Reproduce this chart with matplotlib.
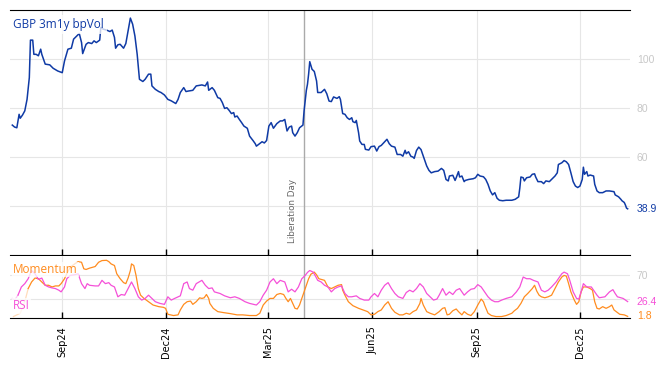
import matplotlib
matplotlib.use('Agg')
import matplotlib.pyplot as plt
import matplotlib.dates as mdates
import pandas as pd

start = pd.Timestamp('2024-07-19')

# GBP 3m1y bp vol, days after start
vol_days = [0, 2, 4, 6, 7, 9, 11, 13, 15, 16, 18, 19, 21, 23, 25, 26, 29, 33, 36, 40,
            44, 46, 49, 52, 54, 56, 59, 61, 62, 65, 67, 70, 72, 74, 77, 78, 80, 83, 86, 88,
            90, 91, 93, 95, 98, 100, 102, 104, 106, 108, 110, 112, 115, 117, 120, 122, 123, 126, 129, 131,
            134, 137, 140, 144, 146, 148, 151, 153, 155, 159, 162, 167, 170, 172, 173, 176, 178, 181, 183, 185,
            187, 189, 191, 193, 195, 196, 198, 200, 202, 204, 207, 209, 212, 214, 215, 217, 220, 222, 224, 226,
            228, 230, 233, 236, 238, 240, 242, 244, 246, 247, 249, 251, 253, 256, 257, 259, 260, 261, 262, 264,
            266, 268, 269, 272, 275, 277, 279, 281, 283, 286, 288, 289, 291, 293, 295, 297, 299, 300, 302, 303,
            305, 306, 308, 310, 311, 314, 316, 319, 321, 323, 325, 328, 330, 332, 334, 337, 339, 342, 344, 346,
            347, 349, 351, 353, 354, 356, 358, 360, 362, 365, 367, 369, 372, 375, 378, 380, 382, 384, 385, 388,
            390, 391, 393, 394, 396, 398, 399, 402, 406, 408, 410, 412, 415, 417, 419, 421, 423, 425, 427, 429,
            432, 435, 440, 443, 446, 447, 448, 450, 451, 453, 456, 458, 460, 461, 463, 466, 468, 470, 473, 475,
            478, 480, 481, 484, 486, 488, 490, 492, 494, 496, 498, 500, 502, 503, 504, 506, 507, 509, 512, 513,
            515, 517, 520, 523, 526, 530, 531, 534, 536, 537, 539, 540, 541, 542]
vol = [73.1, 72.3, 72.0, 77.5, 75.9, 77.2, 78.9, 83.6, 92.5, 107.8, 107.8, 102.0, 102.0, 101.4, 104.1, 102.0, 98.0, 97.7, 96.3, 95.2,
       94.5, 99.3, 104.1, 104.5, 108.2, 109.1, 110.5, 106.8, 102.3, 106.1, 106.8, 106.4, 107.5, 106.8, 107.8, 113.0, 112.3, 111.9, 111.3, 111.9,
       108.9, 104.5, 105.9, 106.1, 104.5, 106.4, 111.6, 116.8, 114.3, 109.5, 102.0, 91.8, 90.9, 91.8, 93.9, 93.9, 89.1, 87.7, 86.8, 86.4,
       85.4, 83.6, 83.0, 81.9, 83.6, 86.4, 88.4, 86.8, 87.0, 87.3, 89.1, 89.5, 89.1, 90.7, 87.3, 88.4, 87.3, 84.3, 84.0, 82.3,
       79.9, 80.2, 79.1, 77.8, 78.2, 76.4, 76.8, 75.4, 74.1, 72.7, 71.8, 68.6, 66.8, 65.5, 64.5, 65.2, 66.3, 65.8, 66.8, 72.7,
       74.1, 71.8, 73.7, 74.8, 74.8, 75.4, 70.7, 72.3, 72.7, 70.0, 68.6, 70.0, 72.0, 73.1, 78.9, 87.3, 89.8, 93.9, 99.0, 95.9,
       95.0, 91.1, 86.4, 86.4, 87.7, 85.9, 82.9, 82.7, 84.6, 84.0, 84.7, 83.6, 77.8, 77.5, 76.1, 75.4, 76.1, 74.5, 74.1, 75.0,
       70.0, 66.6, 65.2, 65.2, 63.2, 62.9, 64.3, 64.5, 62.5, 64.3, 64.8, 66.3, 67.3, 65.5, 64.5, 64.1, 61.1, 61.1, 60.4, 62.8,
       61.4, 62.2, 60.4, 60.0, 59.5, 62.7, 64.1, 63.1, 60.4, 56.4, 54.6, 53.6, 54.1, 54.3, 55.4, 54.6, 50.9, 50.3, 52.3, 52.6,
       50.5, 51.6, 54.1, 51.9, 52.3, 50.0, 50.5, 50.9, 51.2, 51.6, 53.0, 52.3, 52.0, 50.9, 48.9, 46.2, 44.6, 45.5, 43.2, 42.4,
       42.2, 42.4, 42.4, 42.8, 43.8, 47.3, 51.9, 51.6, 50.3, 51.6, 51.9, 53.0, 53.2, 51.9, 50.0, 50.0, 49.2, 50.3, 50.0, 50.9,
       52.3, 53.6, 57.0, 57.7, 58.6, 58.1, 57.0, 53.6, 50.0, 48.2, 47.6, 48.2, 50.9, 55.9, 53.0, 54.1, 52.3, 52.7, 52.3, 48.9,
       46.2, 45.5, 45.5, 46.2, 46.2, 45.9, 44.6, 43.8, 42.8, 42.2, 41.5, 40.5, 39.2, 38.9]

# Momentum
mom_days = [1, 7, 11, 14, 17, 20, 23, 26, 29, 32, 35, 38, 41, 43, 46, 48, 51, 55, 58, 61,
            63, 65, 68, 73, 76, 79, 83, 85, 87, 90, 92, 95, 98, 100, 102, 104, 105, 107, 109, 111,
            113, 116, 120, 124, 129, 133, 135, 137, 142, 146, 148, 151, 154, 157, 159, 162, 165, 167, 169, 171,
            173, 174, 177, 181, 186, 192, 198, 203, 209, 215, 218, 221, 224, 227, 230, 233, 236, 239, 241, 243,
            245, 247, 249, 251, 253, 256, 258, 261, 263, 266, 268, 270, 272, 275, 278, 281, 284, 287, 290, 291,
            293, 296, 300, 305, 309, 313, 316, 319, 322, 325, 328, 331, 334, 337, 341, 344, 347, 350, 353, 356,
            359, 360, 362, 365, 368, 372, 376, 379, 381, 383, 385, 388, 391, 393, 396, 398, 401, 404, 407, 410,
            413, 415, 416, 419, 422, 426, 431, 435, 440, 442, 445, 448, 451, 454, 458, 460, 462, 464, 466, 469,
            472, 475, 478, 481, 484, 486, 488, 490, 492, 495, 497, 499, 501, 503, 506, 509, 511, 513, 515, 517,
            520, 523, 526, 528, 530, 532, 535, 539, 542]
mom = [1.5, 7.0, 26.2, 48.1, 59.1, 65.6, 64.5, 59.1, 53.6, 53.6, 50.8, 52.5, 52.5, 56.3, 64.5, 72.8, 83.7, 89.2, 93.0, 91.9,
       81.0, 79.9, 82.1, 84.8, 91.9, 94.7, 95.2, 93.0, 89.2, 86.5, 72.8, 64.5, 58.0, 56.3, 65.6, 78.2, 89.2, 86.5, 70.0, 48.1,
       37.1, 31.7, 26.2, 20.7, 18.0, 16.9, 15.2, 5.3, 3.2, 4.3, 12.5, 21.8, 26.2, 27.3, 21.8, 26.2, 32.7, 31.7, 32.7, 38.2,
       31.7, 23.4, 15.2, 9.7, 8.1, 6.4, 4.3, 4.3, 3.2, 3.2, 7.0, 20.7, 27.3, 31.7, 31.7, 38.2, 39.9, 38.2, 31.7, 26.2,
       31.7, 23.4, 15.2, 14.1, 20.7, 37.1, 48.1, 64.5, 72.0, 75.5, 71.0, 64.5, 63.4, 61.8, 50.8, 48.1, 50.8, 53.6, 54.7, 45.4,
       37.1, 26.2, 19.6, 15.2, 12.5, 9.7, 4.3, 5.3, 9.7, 12.5, 20.7, 26.2, 15.2, 8.6, 4.3, 4.3, 7.0, 5.3, 9.7, 12.5,
       23.4, 31.7, 20.7, 9.7, 7.0, 4.3, 9.7, 15.2, 16.3, 4.3, 5.3, 11.2, 14.1, 9.7, 4.3, 9.7, 5.3, 3.2, 9.7, 20.7,
       30.6, 26.2, 20.7, 7.0, 3.2, 1.5, 1.5, 3.2, 7.0, 10.8, 15.2, 23.4, 34.4, 39.9, 48.1, 53.6, 43.7, 37.1, 34.4, 32.8,
       34.4, 37.1, 48.1, 59.1, 67.3, 70.0, 68.9, 56.3, 42.6, 28.9, 21.8, 26.2, 42.6, 50.8, 50.8, 48.1, 45.4, 26.2, 15.2, 14.1,
       18.0, 15.2, 18.0, 20.7, 12.5, 9.7, 5.3, 4.3, 1.8]

# RSI
rsi_days = [0, 2, 5, 8, 11, 14, 17, 20, 23, 26, 29, 32, 35, 38, 41, 43, 46, 48, 51, 55,
            58, 61, 64, 66, 68, 73, 76, 79, 82, 85, 87, 90, 93, 96, 99, 102, 105, 108, 111, 114,
            117, 120, 123, 126, 130, 134, 137, 140, 143, 148, 151, 154, 156, 159, 162, 167, 170, 173, 176, 178,
            183, 187, 192, 196, 200, 205, 209, 215, 218, 221, 224, 227, 230, 233, 236, 240, 243, 246, 249, 252,
            255, 258, 260, 262, 265, 267, 269, 272, 275, 278, 281, 284, 287, 290, 293, 296, 299, 303, 306, 310,
            314, 316, 319, 322, 325, 328, 331, 334, 337, 340, 344, 347, 350, 353, 356, 359, 362, 365, 368, 371,
            374, 376, 379, 382, 385, 388, 391, 394, 396, 398, 401, 404, 407, 410, 413, 416, 419, 422, 425, 428,
            431, 435, 440, 444, 447, 450, 453, 456, 459, 463, 466, 469, 472, 475, 479, 484, 486, 489, 491, 494,
            497, 499, 501, 503, 506, 510, 513, 515, 517, 522, 526, 529, 531, 533, 538, 542]
rsi = [31.7, 28.9, 37.1, 50.8, 56.3, 64.5, 78.2, 72.8, 63.4, 65.6, 53.6, 50.8, 49.2, 48.1, 45.4, 42.6, 50.8, 64.5, 70.0, 71.1,
       72.8, 56.3, 48.1, 56.3, 53.6, 52.5, 52.5, 61.8, 56.3, 58.0, 53.6, 50.8, 34.4, 38.2, 37.1, 48.1, 59.1, 48.1, 34.4, 28.9,
       31.7, 37.1, 31.7, 26.2, 23.4, 21.8, 34.4, 28.9, 31.7, 36.0, 56.3, 59.1, 48.1, 45.4, 56.3, 61.8, 53.6, 48.1, 49.2, 42.6,
       39.9, 36.0, 32.8, 34.4, 31.7, 26.2, 23.4, 20.7, 26.2, 37.1, 45.4, 59.1, 64.5, 56.3, 61.8, 59.1, 42.6, 47.0, 42.6, 50.8,
       64.5, 70.0, 75.0, 78.2, 75.5, 68.9, 61.8, 59.1, 53.6, 50.8, 42.6, 48.1, 50.8, 52.5, 39.9, 34.4, 34.4, 36.0, 31.7, 28.9,
       28.9, 34.4, 39.9, 34.4, 45.4, 53.6, 58.0, 48.1, 39.9, 34.4, 31.7, 41.5, 45.4, 42.6, 48.1, 56.3, 50.8, 39.9, 34.4, 28.9,
       30.6, 37.1, 48.1, 37.1, 42.6, 38.2, 45.4, 48.1, 42.6, 37.1, 42.6, 47.0, 48.1, 54.7, 50.8, 42.6, 34.4, 28.9, 26.2, 26.2,
       28.9, 31.7, 34.4, 42.6, 50.8, 67.3, 64.5, 64.5, 61.8, 59.1, 45.4, 42.6, 45.4, 50.8, 59.1, 72.8, 75.5, 72.8, 61.8, 42.6,
       31.7, 30.6, 42.6, 56.3, 50.8, 50.8, 42.6, 37.1, 32.8, 34.4, 42.6, 46.3, 39.9, 34.4, 31.7, 26.4]

event_date = pd.Timestamp('2025-04-02')
event_name = 'Liberation Day'
tick_dates = pd.to_datetime(['2024-09-01', '2024-12-01', '2025-03-01',
                             '2025-06-01', '2025-09-01', '2025-12-01'])

blue = '#0f3aa5'
orange = '#ff8c1f'
pink = '#f550d8'
grid_c = '#e6e6e6'
lbl_grey = '#c8c8c8'


def to_dates(days):
    return start + pd.to_timedelta(days, unit='D')


fig = plt.figure(figsize=(6.68, 3.66), dpi=100)
ax1 = fig.add_axes([0.015, 0.303, 0.928, 0.669])
ax2 = fig.add_axes([0.015, 0.131, 0.928, 0.169], sharex=ax1)

# top panel
ax1.plot(to_dates(vol_days), vol, color=blue, lw=1.1, zorder=3)
ax1.set_ylim(20, 120)
ax1.set_yticks([40, 60, 80, 100])
ax1.set_yticklabels(['', '60', '80', '100'])
ax1.annotate(f'{vol[-1]:.1f}', xy=(1, vol[-1]), xycoords=('axes fraction', 'data'),
             xytext=(5, 0), textcoords='offset points', va='center', ha='left',
             color=blue, fontsize=7.5, family='Liberation Sans')
ax1.text(0.005, 0.967, 'GBP 3m1y bpVol', transform=ax1.transAxes, va='top', ha='left',
         color=blue, fontsize=8.5, family='Open Sans', zorder=5,
         bbox=dict(fc='white', ec='none', alpha=0.75, pad=2))

# event marker
for ax in (ax1, ax2):
    ax.axvline(event_date, color='#aaaaaa', lw=1, zorder=2)
ax1.annotate(event_name, xy=(event_date, 0.05), xycoords=('data', 'axes fraction'),
             xytext=(-5, 0), textcoords='offset points', rotation=90,
             ha='right', va='bottom', color='#666666', fontsize=6.3)

# bottom panel
mdates_m = to_dates(mom_days)
mdates_r = to_dates(rsi_days)
ax2.plot(mdates_m[:4], mom[:4], color=orange, lw=0.9, alpha=0.3, zorder=3)
ax2.plot(mdates_m[3:], mom[3:], color=orange, lw=0.9, zorder=3)
ax2.plot(mdates_r[:3], rsi[:3], color=pink, lw=0.9, alpha=0.3, zorder=3)
ax2.plot(mdates_r[2:], rsi[2:], color=pink, lw=0.9, zorder=3)
ax2.set_ylim(-1, 102)
ax2.set_yticks([30, 70])
ax2.set_yticklabels(['', '70'])
for val, col in ((rsi[-1], pink), (mom[-1], orange)):
    ax2.annotate(f'{val:.1f}', xy=(1, val), xycoords=('axes fraction', 'data'),
                 xytext=(5, 0), textcoords='offset points', va='center', ha='left',
                 color=col, fontsize=7.5, family='Liberation Sans')
ax2.text(0.005, 0.89, 'Momentum', transform=ax2.transAxes, va='top', ha='left',
         color=orange, fontsize=8.5, family='Open Sans', zorder=5,
         bbox=dict(fc='white', ec='none', alpha=0.75, pad=1))
ax2.text(0.005, 0.2, 'RSI', transform=ax2.transAxes, va='center', ha='left',
         color=pink, fontsize=8.5, family='Open Sans', zorder=5,
         bbox=dict(fc='white', ec='none', alpha=0.75, pad=1))

# shared styling
ax1.set_xlim(start - pd.Timedelta(days=2), start + pd.Timedelta(days=544))
for ax in (ax1, ax2):
    ax.set_xticks(tick_dates)
    ax.xaxis.set_major_formatter(mdates.DateFormatter('%b%y'))
    ax.grid(True, color=grid_c, lw=0.8, zorder=0)
    ax.yaxis.tick_right()
    ax.tick_params(axis='y', length=0, pad=5, labelsize=7.5, labelcolor=lbl_grey)
    ax.tick_params(axis='x', direction='in', length=4, width=1, color='black')
    for lab in ax.get_yticklabels():
        lab.set_family('Liberation Sans')
    ax.spines['left'].set_visible(False)
    ax.spines['right'].set_visible(False)
    ax.spines['bottom'].set_color('black')

ax1.tick_params(axis='x', labelbottom=False)
ax1.spines['top'].set_color('black')
ax2.spines['top'].set_visible(False)
ax2.tick_params(axis='x', labelsize=7, labelrotation=90, pad=6)

fig.savefig('out.png', dpi=100)
